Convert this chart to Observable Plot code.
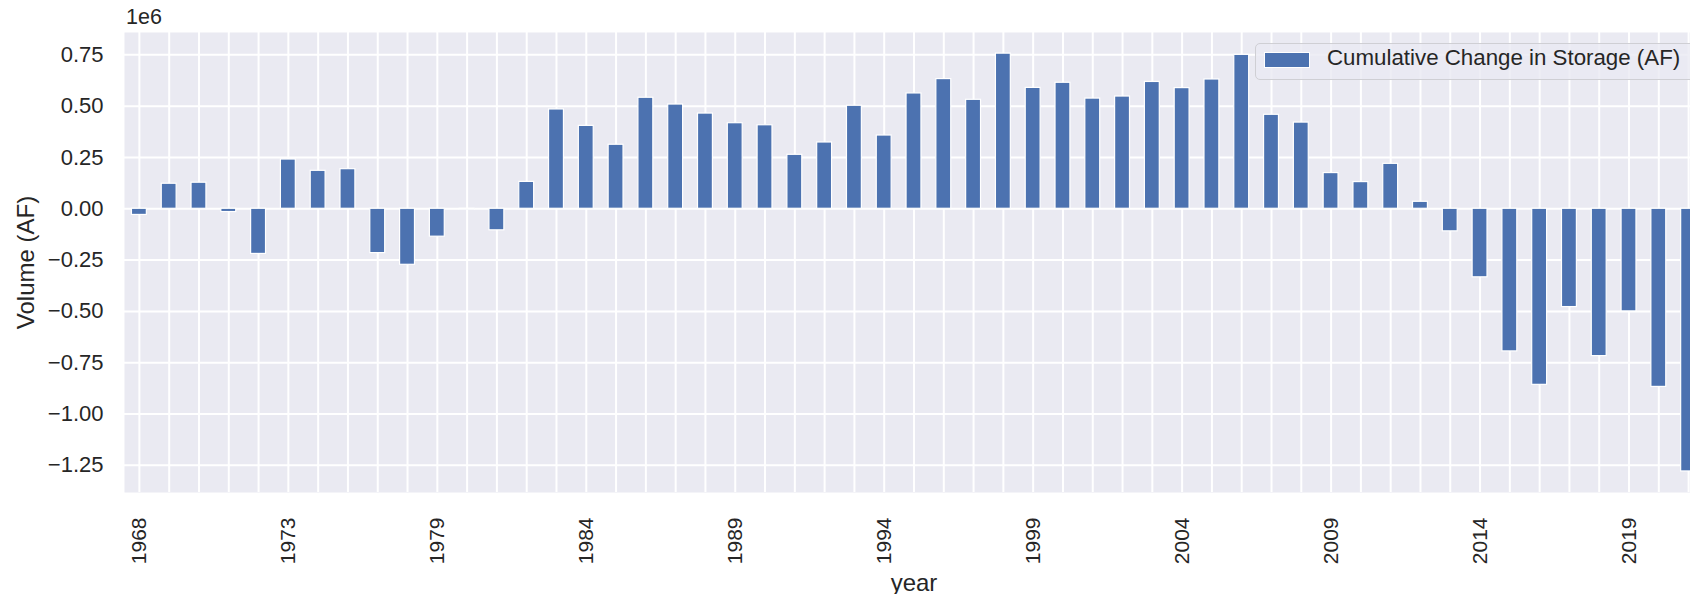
<!DOCTYPE html>
<html><head><meta charset="utf-8">
<script src="https://cdn.jsdelivr.net/npm/d3@7"></script>
<script src="https://cdn.jsdelivr.net/npm/@observablehq/plot@0.6"></script>
<style>
html,body{margin:0;padding:0;background:#fff;overflow:hidden;width:1690px;height:594px;}
#wrap{position:relative;width:1710px;height:594px;font-family:"Liberation Sans",Arial,sans-serif;color:#262626;}
#wrap svg{position:absolute;left:0;top:0;}
.ov{position:absolute;line-height:1;white-space:nowrap;}
#legend{position:absolute;left:1255px;top:43px;width:470px;height:35px;background:rgba(234,234,242,0.8);border:1.5px solid #cfcfd4;border-radius:5px;z-index:5;}
#patch{position:absolute;left:8px;top:8px;width:44px;height:14px;background:#4C72B0;border:1px solid #fff;}
#ltext{position:absolute;left:71px;top:3px;font-size:22.3px;line-height:1;white-space:nowrap;color:#262626;}
</style></head><body>
<div id="wrap">
  <div class="ov" style="left:126px;top:7px;font-size:21.5px;z-index:5">1e6</div>
  <div id="legend"><div id="patch"></div><div id="ltext">Cumulative Change in Storage (AF)</div></div>
</div>
<script>
const years = [1968,1969,1970,1971,1972,1973,1974,1975,1976,1977,
  1979,1980,1981,1982,1983,1984,1985,1986,1987,1988,1989,1990,1991,1992,1993,1994,
  1995,1996,1997,1998,1999,2000,2001,2002,2003,2004,2005,2006,2007,2008,2009,2010,
  2011,2012,2013,2014,2015,2016,2017,2018,2019,2020,2021];
const storageChange = [-30000,122000,127000,-16000,-220000,240000,185000,193000,-216000,-273000,
  -136000,-4000,-105000,131000,484000,404000,312000,541000,508000,464000,417000,407000,263000,323000,502000,357000,
  562000,632000,531000,756000,589000,614000,537000,547000,618000,588000,630000,750000,458000,420000,174000,130000,
  219000,34000,-110000,-334000,-695000,-858000,-479000,-718000,-500000,-868000,-1280000];
const seriesName = "Cumulative Change in Storage (AF)";
const yTicks = [-1250000,-1000000,-750000,-500000,-250000,0,250000,500000,750000];
const xTickYears = years.filter((d, i) => i % 5 === 0).map(String);

const data = years.map((y, i) => ({year: String(y), value: storageChange[i]}));
const fmt = v => (v / 1e6).toFixed(2).replace("-", "\u2212");

const chart = Plot.plot({
  width: 1710, height: 594,
  marginLeft: 124, marginRight: 7, marginTop: 32, marginBottom: 102,
  style: {background: "transparent", fontFamily: "'Liberation Sans', Arial, sans-serif", fontSize: "22px", color: "#262626", overflow: "visible"},
  x: {type: "band", domain: years.map(String), paddingInner: 0.5, paddingOuter: 0.25, label: null},
  y: {domain: [-1382600, 859000], label: null},
  marks: [
    Plot.frame({fill: "#EAEAF2", stroke: null}),
    Plot.gridY(yTicks, {stroke: "#ffffff", strokeOpacity: 1, strokeWidth: 2}),
    Plot.gridX(years.map(String), {stroke: "#ffffff", strokeOpacity: 1, strokeWidth: 2}),
    Plot.barY(data, {x: "year", y: "value", fill: "#4C72B0", stroke: "#ffffff", strokeWidth: 1.2}),
    Plot.axisY(yTicks, {tickSize: 0, tickPadding: 21, tickFormat: fmt, fontSize: 22,
      label: "Volume (AF)", labelArrow: "none", labelAnchor: "center", labelOffset: 108}),
    Plot.axisX(xTickYears, {tickSize: 0, tickPadding: 25, tickRotate: -90, fontSize: 21,
      label: "year", labelArrow: "none", labelAnchor: "center", labelOffset: 98})
  ]
});
chart.querySelectorAll('g[aria-label$="axis label"]').forEach(g => {
  g.setAttribute("font-size", "24");
  g.querySelectorAll("text").forEach(t => { t.textContent = t.textContent.replace(/\s*[\u2190-\u2193]\s*/g, ""); });
});
document.getElementById("wrap").appendChild(chart);
</script>
</body></html>
